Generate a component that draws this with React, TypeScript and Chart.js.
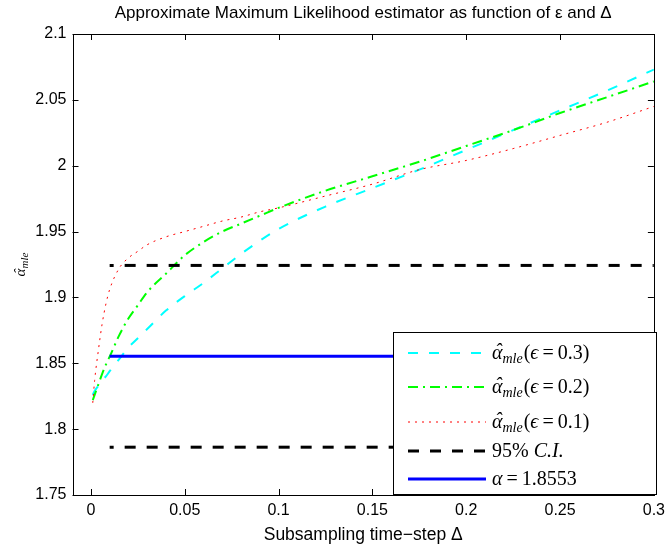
import React, { useEffect, useRef } from "react";
import { Chart, registerables } from "chart.js";
Chart.register(...registerables);

// ---- data ----
const deltas = [0.001, 0.002, 0.004, 0.006, 0.008, 0.01, 0.015, 0.02, 0.025, 0.03, 0.04, 0.05, 0.06, 0.07, 0.08, 0.09, 0.1, 0.125, 0.15, 0.175, 0.2, 0.225, 0.25, 0.275, 0.3];
const alphaEps03 = [1.826, 1.829, 1.833, 1.837, 1.840, 1.844, 1.853, 1.862, 1.869, 1.876, 1.890, 1.901, 1.911, 1.922, 1.933, 1.943, 1.952, 1.969, 1.983, 1.997, 2.012, 2.027, 2.042, 2.057, 2.073];
const alphaEps02 = [1.822, 1.826, 1.834, 1.842, 1.849, 1.855, 1.871, 1.884, 1.894, 1.904, 1.918, 1.932, 1.942, 1.950, 1.956, 1.962, 1.968, 1.981, 1.992, 2.003, 2.015, 2.027, 2.040, 2.052, 2.064];
const alphaEps01 = [1.820, 1.837, 1.860, 1.880, 1.895, 1.906, 1.922, 1.930, 1.935, 1.940, 1.946, 1.950, 1.954, 1.958, 1.961, 1.965, 1.968, 1.977, 1.986, 1.997, 2.004, 2.013, 2.023, 2.033, 2.045];
const refDeltas = [0.01, 0.3];
const ciUpper = 1.9243;
const ciLower = 1.7863;
const alphaTrue = 1.8553;
const xTicks = [0, 0.05, 0.1, 0.15, 0.2, 0.25, 0.3];
const yTicks = [1.75, 1.8, 1.85, 1.9, 1.95, 2, 2.05, 2.1];
const titleText = "Approximate Maximum Likelihood estimator as function of \u03b5 and \u0394";
const xTitleText = "Subsampling time\u2212step \u0394";

const SANS = "'Liberation Sans', Arial, sans-serif";
const SERIF = "'Liberation Serif', 'Times New Roman', serif";

type Seg = { t: string; font: string; dy?: number; hat?: boolean; after?: number };

function drawRich(ctx: CanvasRenderingContext2D, x: number, y: number, segs: Seg[], draw = true): number {
  let cx = x;
  for (const s of segs) {
    ctx.font = s.font;
    const w = ctx.measureText(s.t).width;
    if (draw) {
      ctx.textAlign = "left";
      ctx.fillText(s.t, cx, y + (s.dy || 0));
      if (s.hat) {
        ctx.textAlign = "center";
        ctx.fillText("\u02c6", cx + w / 2 + 1, y + (s.dy || 0) - 1);
        ctx.textAlign = "left";
      }
    }
    cx += w + (s.after || 0);
  }
  return cx - x;
}

const LF = 20;
const alphaHat = (eps: string): Seg[] => [
  { t: "\u03b1", font: `italic ${LF}px ${SERIF}`, hat: true },
  { t: "mle", font: `italic ${LF - 6}px ${SERIF}`, dy: 4, after: 1 },
  { t: "(", font: `${LF}px ${SERIF}` },
  { t: "\u03f5", font: `italic ${LF}px ${SERIF}`, after: 4 },
  { t: "=", font: `${LF}px ${SERIF}`, after: 4 },
  { t: eps + ")", font: `${LF}px ${SERIF}` },
];

const legendItems = [
  { color: "#00FFFF", width: 2, dash: [10, 11], segs: alphaHat("0.3"), y: 353 },
  { color: "#00FF00", width: 2, dash: [10, 5, 2, 5], segs: alphaHat("0.2"), y: 387 },
  { color: "#FF0000", width: 1, dash: [2, 5], segs: alphaHat("0.1"), y: 422 },
  {
    color: "#000000", width: 3, dash: [11, 11], y: 451,
    segs: [
      { t: "95% ", font: `${LF}px ${SERIF}` },
      { t: "C.I.", font: `italic ${LF}px ${SERIF}` },
    ] as Seg[],
  },
  {
    color: "#0000FF", width: 3, dash: [] as number[], y: 479,
    segs: [
      { t: "\u03b1", font: `italic ${LF}px ${SERIF}`, after: 4 },
      { t: "=", font: `${LF}px ${SERIF}`, after: 4 },
      { t: "1.8553", font: `${LF}px ${SERIF}` },
    ] as Seg[],
  },
];

const fmt = (v: number) => String(Number(v.toFixed(4)));

const decorPlugin = {
  id: "decor",
  afterDraw(chart: any) {
    const ctx: CanvasRenderingContext2D = chart.ctx;
    const { left, right, top, bottom } = chart.chartArea;
    const xs = chart.scales.x;
    const ys = chart.scales.y;
    ctx.save();
    // axes box
    ctx.strokeStyle = "#000";
    ctx.lineWidth = 1;
    ctx.setLineDash([]);
    ctx.strokeRect(Math.round(left) + 0.5, Math.round(top) + 0.5, Math.round(right - left), Math.round(bottom - top));
    // inward ticks
    ctx.beginPath();
    for (const v of xTicks) {
      const px = Math.round(xs.getPixelForValue(v)) + 0.5;
      ctx.moveTo(px, bottom); ctx.lineTo(px, bottom - 6);
      ctx.moveTo(px, top); ctx.lineTo(px, top + 6);
    }
    for (const v of yTicks) {
      const py = Math.round(ys.getPixelForValue(v)) + 0.5;
      ctx.moveTo(left, py); ctx.lineTo(left + 6, py);
      ctx.moveTo(right, py); ctx.lineTo(right - 6, py);
    }
    ctx.stroke();

    // title
    ctx.fillStyle = "#000";
    ctx.font = `17px ${SANS}`;
    ctx.textAlign = "center";
    ctx.textBaseline = "alphabetic";
    ctx.fillText(titleText, (left + right) / 2, 18);
    // x title
    ctx.font = `17.5px ${SANS}`;
    ctx.fillText(xTitleText, (left + right) / 2, 540);
    // y title (rotated)
    ctx.save();
    ctx.translate(25, (top + bottom) / 2);
    ctx.rotate(-Math.PI / 2);
    const ySegs: Seg[] = [
      { t: "\u03b1", font: `italic 15px ${SERIF}`, hat: true },
      { t: "mle", font: `italic 11px ${SERIF}`, dy: 3 },
    ];
    const yw = drawRich(ctx, 0, 0, ySegs, false);
    drawRich(ctx, -yw / 2, 0, ySegs);
    ctx.restore();

    // legend
    const bx0 = 393, by0 = 332, bx1 = 657, by1 = 495;
    ctx.fillStyle = "#fff";
    ctx.fillRect(bx0, by0, bx1 - bx0, by1 - by0);
    ctx.strokeStyle = "#000";
    ctx.lineWidth = 1;
    ctx.strokeRect(bx0 + 0.5, by0 + 0.5, bx1 - bx0 - 1, by1 - by0 - 1);
    for (const it of legendItems) {
      ctx.strokeStyle = it.color;
      ctx.lineWidth = it.width;
      ctx.setLineDash(it.dash);
      ctx.beginPath();
      ctx.moveTo(408, it.y);
      ctx.lineTo(486, it.y);
      ctx.stroke();
      ctx.setLineDash([]);
      ctx.fillStyle = "#000";
      ctx.textBaseline = "alphabetic";
      drawRich(ctx, 492, it.y + 6, it.segs);
    }
    ctx.restore();
  },
};

export default function App() {
  const ref = useRef<HTMLCanvasElement | null>(null);
  useEffect(() => {
    if (!ref.current) return;
    const pts = (ys: number[]) => deltas.map((d, i) => ({ x: d, y: ys[i] }));
    const flat = (v: number) => refDeltas.map((d) => ({ x: d, y: v }));
    const chart = new Chart(ref.current, {
      type: "line",
      data: {
        datasets: [
          { label: "alpha", data: flat(alphaTrue), borderColor: "#0000FF", borderWidth: 3, pointRadius: 0 },
          { label: "ci-up", data: flat(ciUpper), borderColor: "#000000", borderWidth: 3, borderDash: [11, 11], borderDashOffset: 7, pointRadius: 0 },
          { label: "ci-lo", data: flat(ciLower), borderColor: "#000000", borderWidth: 3, borderDash: [11, 11], borderDashOffset: 7, pointRadius: 0 },
          { label: "eps0.1", data: pts(alphaEps01), borderColor: "#FF0000", borderWidth: 1, borderDash: [2, 5], pointRadius: 0, cubicInterpolationMode: "monotone" },
          { label: "eps0.2", data: pts(alphaEps02), borderColor: "#00FF00", borderWidth: 2, borderDash: [10, 5, 2, 5], pointRadius: 0, cubicInterpolationMode: "monotone" },
          { label: "eps0.3", data: pts(alphaEps03), borderColor: "#00FFFF", borderWidth: 2, borderDash: [10, 11], pointRadius: 0, cubicInterpolationMode: "monotone" },
        ] as any,
      },
      options: {
        responsive: false,
        animation: false,
        devicePixelRatio: 1,
        layout: { padding: { top: 34, right: 13, left: 0, bottom: 0 } },
        plugins: { legend: { display: false }, title: { display: false }, tooltip: { enabled: false } },
        scales: {
          x: {
            type: "linear",
            min: -0.0098,
            max: 0.3,
            grid: { display: false, drawTicks: false },
            border: { display: false },
            afterBuildTicks: (s: any) => { s.ticks = xTicks.map((v) => ({ value: v })); },
            afterFit: (s: any) => { s.height = 55; },
            ticks: { color: "#000", font: { family: SANS, size: 16 }, padding: 6, maxRotation: 0, autoSkip: false, callback: (v: any) => fmt(Number(v)) },
          },
          y: {
            type: "linear",
            min: 1.75,
            max: 2.1,
            grid: { display: false, drawTicks: false },
            border: { display: false },
            afterBuildTicks: (s: any) => { s.ticks = yTicks.map((v) => ({ value: v })); },
            afterFit: (s: any) => { s.width = 72.5; },
            ticks: { color: "#000", font: { family: SANS, size: 16 }, padding: 6, autoSkip: false, callback: (v: any) => fmt(Number(v)) },
          },
        },
      } as any,
      plugins: [decorPlugin],
    });
    return () => chart.destroy();
  }, []);
  return (
    <div style={{ position: "fixed", left: 0, top: 0, width: 671, height: 550, background: "#fff" }}>
      <canvas ref={ref} width={671} height={550} style={{ width: 671, height: 550, display: "block" }} />
    </div>
  );
}
